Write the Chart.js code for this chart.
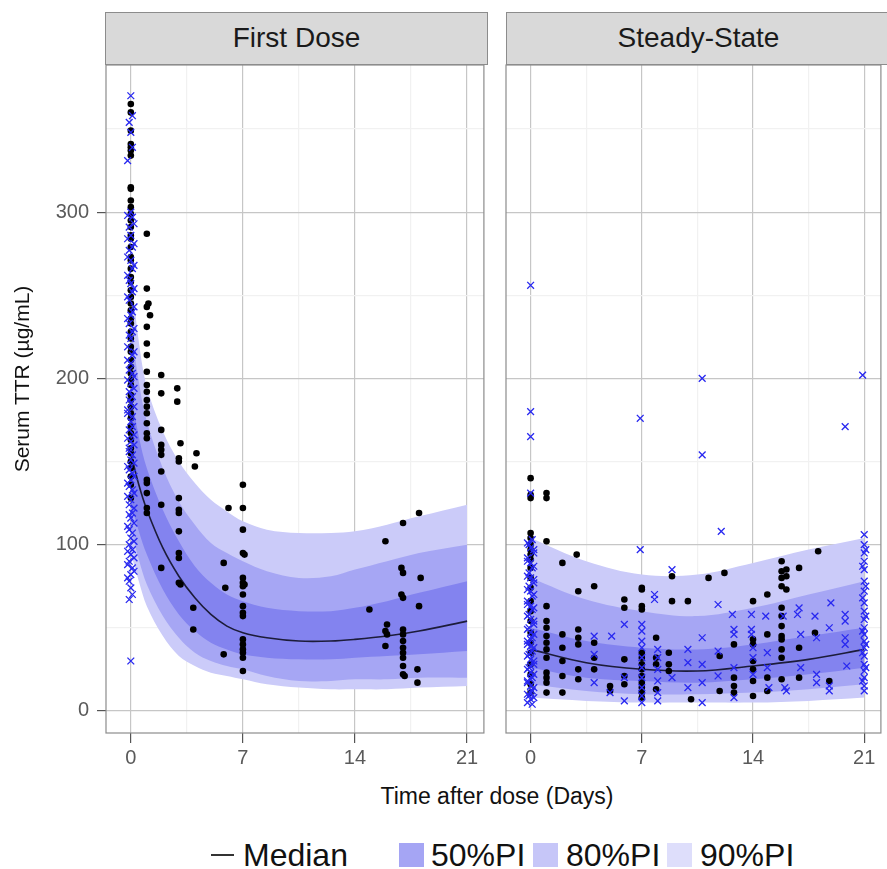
<!DOCTYPE html>
<html>
<head>
    <title>Serum TTR - First Dose / Steady-State</title>
    <script src="https://cdn.jsdelivr.net/npm/chart.js"></script>
    <style>
        body { margin: 0; background: #fff; font-family: "Liberation Sans", Arial, sans-serif; }
        #page { position: relative; width: 887px; height: 869px; overflow: hidden; }
        canvas { position: absolute; top: 0; }
        .strip { position: absolute; top: 12px; height: 53px; background: #d9d9d9; border: 1px solid #8c8c8c;
                 box-sizing: border-box; font-size: 28px; color: #1a1a1a; text-align: center; line-height: 50px; }
        .ytitle { position: absolute; left: -128px; top: 366px; width: 300px; height: 26px; line-height: 26px;
                  font-size: 21px; text-align: center; transform: rotate(-90deg); color: #111; }
        .xtitle { position: absolute; left: 297px; top: 783px; width: 400px; font-size: 23px; text-align: center; color: #111; }
        .leg { position: absolute; font-size: 32px; color: #111; top: 836px; line-height: 38px; }
        .key { position: absolute; top: 843px; width: 25px; height: 24px; }
    </style>
</head>
<body>
<div id="page">
    <canvas id="firstDose" width="490" height="780" style="left:0"></canvas>
    <canvas id="steadyState" width="397" height="780" style="left:490px"></canvas>

    <div class="strip" style="left:105px; width:383px">First Dose</div>
    <div class="strip" style="left:506px; width:385px">Steady-State</div>

    <div class="ytitle">Serum TTR (µg/mL)</div>
    <div class="xtitle">Time after dose (Days)</div>

    <div style="position:absolute; left:211px; top:854px; width:23px; height:2px; background:#333"></div>
    <div class="leg" style="left:243px">Median</div>
    <div class="key" style="left:399px; background:#a5a5f4"></div>
    <div class="leg" style="left:431px">50%PI</div>
    <div class="key" style="left:533px; background:#c6c6f8"></div>
    <div class="leg" style="left:566px">80%PI</div>
    <div class="key" style="left:667px; background:#dedefb"></div>
    <div class="leg" style="left:700px">90%PI</div>
</div>

<script>
    // ---- axes ----
    var dayTicks = [0, 3.5, 7, 10.5, 14, 17.5, 21];
    var ttrTicks = [0, 50, 100, 150, 200, 250, 300, 350];

    // ---- First Dose: prediction intervals ----
    var fdBandDay = [0, 0.5, 1, 2, 3, 4, 5, 6, 7, 8.5, 10.5, 12.5, 14, 16, 18, 21];
    var fdMedian  = [155, 136, 121, 98, 81, 68, 58, 51, 47, 44, 42, 42, 43, 45, 48, 54];
    var fdHi90    = [265, 222, 195, 168, 150, 137, 127, 120, 114, 109, 107, 107, 108, 112, 117, 124];
    var fdLo90    = [95, 78, 63, 45, 33, 27, 23, 21, 19, 16, 14, 13, 13, 13, 14, 15];
    var fdHi80    = [232, 198, 174, 146, 126, 112, 101, 95, 90, 84, 80, 81, 85, 90, 95, 100];
    var fdLo80    = [110, 91, 76, 57, 44, 35, 30, 27, 25, 21, 18, 18, 19, 19, 20, 20];
    var fdHi50    = [192, 165, 146, 121, 102, 87, 77, 70, 66, 62, 60, 60, 62, 66, 71, 78];
    var fdLo50    = [125, 108, 94, 73, 58, 48, 41, 37, 34, 32, 31, 31, 32, 33, 34, 36];

    // ---- First Dose: observations [day, value] ----
    var fdDots = [
        [0,365],[0,360],[0,349],[0,341],[0,339],[0,337],[0,334],[0,315],[0,314],[0,307],[0,303],[0,299],[0,295],
        [0,291],[0,286],[0,284],[0,279],[0,273],[0,271],[0,266],[0,261],[0,258],[0,253],[0,249],[0,245],[0,241],
        [0,236],[0,233],[0,228],[0,224],[0,219],[0,216],[0,211],[0,207],[0,203],[0,199],[0,196],[0,190],[0,187],
        [0,183],[0,179],[0,176],[0,171],[0,167],[0,163],[0,158],[0,155],[0,150],[0,146],[0,141],[0,136],[0,128],
        [1,287],[1,254],[1.1,245],[1,243],[1.2,238],[1,231],[1,221],[1,214],[1,204],[1,196],[1,192],[1,187],
        [1,183],[1,179],[1,173],[1,167],[1,164],[1,139],[1,137],[1,131],[1,122],[1,119],
        [1.9,202],[1.9,191],[1.9,169],[1.9,160],[1.9,157],[1.9,154],[1.9,144],[1.9,124],[1.9,86],
        [2.9,194],[2.9,186],[3.1,161],[3,152],[3,150],[3,128],[3,121],[3,119],[3,108],[3,95],[3,92],[3,77],[3.1,76],
        [4.1,155],[4,147],[3.9,62],[3.9,49],
        [6.1,122],[5.8,89],[5.9,74],[5.8,34],
        [7,136],[7,122],[7,109],[7,95],[7.1,94],[7,80],[7,77],[7.1,76],[7,75],[7,70],[7,63],[7,59],[7,57],
        [7,43],[7,40],[7,37],[7,35],[7,32],[7,24],
        [14.9,61],[15.9,102],[16,52],[15.9,48],[16,46],[15.9,39],[17,113],[16.9,86],[17,83],[16.9,70],[17,68],
        [17,49],[17,46],[17,42],[17,38],[17,35],[17,32],[17,27],[17,22],[17.1,21],[18,119],[18.1,80],[18,63],
        [17.9,25],[17.9,17]
    ];
    var fdCrosses = [
        [0,370],[0.1,358],[-0.1,354],[0,348],[0.1,339],[-0.2,331],[0,300],[0.1,297],[-0.1,291],[0,286],
        [0.2,281],[-0.1,277],[0,271],[0.1,266],[-0.2,262],[0,257],[0.1,252],[-0.1,247],[0.2,243],[0,238],
        [-0.1,233],[0.1,228],[0,224],[-0.2,219],[0.1,214],[0,209],[-0.1,205],[0.2,201],[0,197],[-0.1,192],
        [0.1,189],[0,185],[-0.2,181],[0.1,177],[0,174],[-0.1,169],[0.2,166],[0,162],[-0.1,158],[0.1,154],
        [0,151],[-0.2,147],[0.1,143],[0,139],[-0.1,135],[0.2,131],[0,127],[-0.1,124],[0.1,119],[0,116],
        [-0.2,111],[0.1,107],[0,104],[-0.1,100],[0.1,97],[0,94],[-0.1,90],[0.1,86],[0,82],[-0.1,78],
        [0,74],[0.1,70],[-0.1,67],[0,30],
        [-0.2,298],[0.2,293],[-0.2,284],[0.1,279],[-0.2,273],[0.2,268],[-0.1,259],[0.2,254],[-0.2,249],
        [0.1,240],[-0.2,236],[0.2,230],[-0.1,226],[0.2,216],[-0.2,211],[0.1,203],[-0.2,199],[0.2,194],
        [-0.1,187],[0.2,183],[-0.2,179],[0.1,171],[-0.2,164],[0.2,160],[-0.1,156],[0.2,149],[-0.1,145],
        [0.2,141],[-0.2,137],[0.1,133],[-0.2,129],[0.2,122],[-0.1,118],[0.2,113],[-0.1,109],[0.2,102],
        [-0.2,96],[0.2,92],[-0.2,88],[0.2,84],[-0.2,80]
    ];

    // ---- Steady-State: prediction intervals ----
    var ssBandDay = [0, 3.5, 7, 10.5, 14, 17.5, 21];
    var ssMedian  = [37, 29, 25, 24, 27, 31, 37];
    var ssHi90    = [104, 90, 82, 82, 89, 97, 104];
    var ssLo90    = [8, 6, 5, 5, 5, 6, 8];
    var ssHi80    = [80, 67, 60, 57, 62, 70, 78];
    var ssLo80    = [16, 12, 10, 10, 11, 13, 16];
    var ssHi50    = [50, 42, 38, 37, 40, 45, 50];
    var ssLo50    = [26, 20, 18, 17, 19, 22, 26];

    // ---- Steady-State: observations [day, value] ----
    var ssDots = [
        [0,140],[0,130],[0,128],[0,107],[0,104],[0,100],[0,97],[0,94],[0,91],[0,86],[0,80],[0,74],[0,66],
        [0,60],[0,54],[0,47],[0,41],[0,35],[0,28],[0,22],[0,16],[0,11],
        [1,131],[1,128],[1,102],[1,63],[1,54],[1,50],[1,45],[1,41],[1,37],[1,32],[1,23],[1,20],[1,17],[1,11],
        [2,89],[2,46],[2,38],[2,30],[2,21],[2,11],
        [2.9,94],[3,72],[3,49],[3,44],[3,40],[3,25],[3,19],
        [4,75],[4,41],[4,32],[4,25],[5,15],[5,12],
        [5.9,67],[5.9,62],[5.9,31],[5.9,21],[5.9,16],
        [7,74],[7,73],[7,63],[7,61],[7,35],[7,32],[7,28],[7,25],[7,21],[7,17],[7,14],[7,11],[7,8],
        [7.9,44],[7.9,32],[7.9,28],[7.9,13],
        [8.9,81],[8.9,66],[8.7,35],[8.7,28],[8.7,24],[9.9,66],[10.1,7],
        [11.2,80],[12.2,83],[11.9,33],[11.9,12],
        [12.8,40],[12.8,20],[12.8,15],[12.8,11],
        [14,66],[14,43],[14,40],[14,30],[14,25],[14,18],[14,9],
        [14.9,70],[14.9,46],[14.9,20],[14.9,12],
        [15.8,90],[15.8,84],[15.8,80],[15.8,75],[15.8,62],[15.8,57],[15.8,51],[15.8,45],[15.8,43],[15.8,37],
        [15.8,32],[15.8,19],[16.1,85],[16.1,81],[16.1,73],
        [16.9,86],[16.9,38],[16.9,20],[17.9,47],[18.1,96],[18.8,18]
    ];
    var ssCrosses = [
        [0,256],[0,180],[0,165],[0,131],[0.1,103],[-0.1,100],[0,98],[0.2,95],[-0.2,92],[0,89],[0.1,86],
        [-0.1,83],[0,80],[0.2,77],[-0.1,75],[0,72],[0.1,69],[-0.2,66],[0,63],[0.1,61],[-0.1,58],[0,55],
        [0.2,52],[-0.1,50],[0,47],[0.1,44],[-0.2,42],[0,39],[0.1,36],[-0.1,34],[0,31],[0.2,28],[-0.1,26],
        [0,23],[0.1,20],[-0.2,18],[0,15],[0.1,12],[-0.1,9],[0,7],[0.1,4],
        [-0.2,101],[0.2,97],[-0.2,90],[0.2,87],[-0.2,81],[0.2,79],[-0.2,73],[0.2,70],[-0.2,64],[0.2,62],
        [-0.2,57],[0.2,54],[-0.2,49],[0.2,46],[-0.2,40],[0.2,38],[-0.2,33],[0.2,30],[-0.2,25],[0.2,22],
        [-0.2,17],[0.2,14],[-0.2,10],[0.2,8],[-0.2,5],[0,43],[0,35],[0,27],[0,19],[0,11],
        [10.8,200],[20.9,202],[6.9,176],[19.8,171],[10.8,154],[12,108],[6.9,97],[8.9,85],[7.8,70],[7.8,67],
        [11.8,64],[18.9,65],[12.7,58],[13.9,58],[13.9,49],[13.9,46],[14.8,57],[15.9,57],[16.9,62],[16.8,58],
        [17.9,57],[18.8,50],[19.8,58],[19.8,54],[5.9,52],[5.1,45],[4,45],
        [7,52],[7,48],[7,42],[7,38],[7,32],[7,26],[7,20],[7,14],[7,9],[7,5],
        [4,34],[4,17],[5,11],[5.9,20],[5.9,6],
        [8,37],[8,32],[8,25],[8,18],[8,11],[8,6],[9.9,37],[9.9,29],[9.9,14],[8.9,20],
        [10.8,44],[10.8,28],[10.8,17],[10.8,5],[11.8,36],[11.8,21],
        [12.8,49],[12.8,46],[12.8,26],[12.8,8],[14,38],[14,32],[14,22],[14.9,35],[14.9,26],[15,14],
        [16,14],[16.1,12],[17,46],[17,26],[18,44],[18,22],[18,17],[18.8,12],[18.8,15],
        [19.8,44],[19.8,40],[19.9,27],
        [21,106],[21,100],[21,95],[21,90],[21,85],[21,78],[21,72],[21,65],[21,60],[21,55],[21,50],[21,46],
        [21,42],[21,38],[21,33],[21,28],[21,24],[21,20],[21,15],[21,12],
        [21.1,97],[20.9,87],[21.1,75],[20.9,68],[21.1,57],[20.9,48],[21.1,40],[20.9,35],[21.1,26],[20.9,18]
    ];

    var gridMajor = '#c6c6c6';
    var gridMinor = '#f1f1f1';
    var tickGray = '#555555';
    var crossBlue = 'rgb(40,40,240)';

    function xy(days, vals) { return days.map(function (d, i) { return { x: d, y: vals[i] }; }); }
    function pairs(list) { return list.map(function (p) { return { x: p[0], y: p[1] }; }); }
    function isStep(v, step) { return Math.abs(v % step) < 1e-6; }

    function band(days, vals, color, fillTo) {
        return {
            type: 'line', data: xy(days, vals), borderColor: 'rgba(0,0,0,0)', backgroundColor: color,
            pointRadius: 0, tension: 0.35, fill: fillTo
        };
    }

    // Panel frame like ggplot's theme_bw
    var panelBorder = {
        id: 'panelBorder',
        afterDraw: function (chart) {
            var a = chart.chartArea, c = chart.ctx;
            c.save();
            c.strokeStyle = '#8c8c8c';
            c.lineWidth = 1.2;
            c.strokeRect(a.left, a.top, a.right - a.left, a.bottom - a.top);
            c.restore();
        }
    };

    function makePanel(id, p, leftAxis) {
        var ctx = document.getElementById(id).getContext('2d');
        return new Chart(ctx, {
            type: 'scatter',
            data: {
                datasets: [
                    { label: 'Obs (x)', data: pairs(p.crosses), pointStyle: 'crossRot', pointRadius: 4.8,
                      borderColor: crossBlue, backgroundColor: crossBlue, borderWidth: 1.3 },
                    { label: 'Obs', data: pairs(p.dots), pointRadius: 3.3, backgroundColor: '#000', borderWidth: 0 },
                    { type: 'line', label: 'Median', data: xy(p.day, p.median), borderColor: '#1c1c3a',
                      borderWidth: 1.6, pointRadius: 0, tension: 0.35, fill: false },
                    band(p.day, p.lo50, 'rgba(0,0,0,0)', false),
                    band(p.day, p.hi50, '#8383ef', '-1'),
                    band(p.day, p.lo80, 'rgba(0,0,0,0)', false),
                    band(p.day, p.hi80, '#a6a6f4', '-1'),
                    band(p.day, p.lo90, 'rgba(0,0,0,0)', false),
                    band(p.day, p.hi90, '#cbcbf9', '-1')
                ]
            },
            options: {
                responsive: false,
                animation: false,
                events: [],
                layout: { padding: { top: 65, right: leftAxis ? 3 : 0, left: leftAxis ? 0 : 16, bottom: 0 } },
                plugins: { legend: { display: false }, tooltip: { enabled: false } },
                scales: {
                    x: {
                        type: 'linear', min: -1.55, max: 22.05,
                        afterBuildTicks: function (s) { s.ticks = dayTicks.map(function (v) { return { value: v }; }); },
                        afterFit: function (s) { s.height = 47; },
                        border: { display: false },
                        grid: {
                            color: function (c) { return isStep(c.tick.value, 7) ? gridMajor : gridMinor; },
                            tickColor: function (c) { return isStep(c.tick.value, 7) ? tickGray : 'rgba(0,0,0,0)'; },
                            lineWidth: 1.2, tickLength: 10
                        },
                        ticks: {
                            autoSkip: false, maxRotation: 0, padding: 3, color: '#5a5a5a', font: { size: 20 },
                            callback: function (v) { return isStep(v, 7) ? String(v) : ''; }
                        }
                    },
                    y: {
                        type: 'linear', min: -13.3, max: 388.5,
                        afterBuildTicks: function (s) { s.ticks = ttrTicks.map(function (v) { return { value: v }; }); },
                        afterFit: function (s) { s.width = leftAxis ? 106 : 0; },
                        border: { display: false },
                        grid: {
                            color: function (c) { return isStep(c.tick.value, 100) ? gridMajor : gridMinor; },
                            tickColor: function (c) { return isStep(c.tick.value, 100) ? tickGray : 'rgba(0,0,0,0)'; },
                            lineWidth: 1.2, tickLength: 9, drawTicks: leftAxis
                        },
                        ticks: {
                            display: leftAxis, padding: 8, color: '#5a5a5a', font: { size: 20 },
                            callback: function (v) { return isStep(v, 100) ? String(v) : ''; }
                        }
                    }
                }
            },
            plugins: [panelBorder]
        });
    }

    Chart.defaults.font.family = '"Liberation Sans", Arial, sans-serif';

    makePanel('firstDose', {
        day: fdBandDay, median: fdMedian, hi90: fdHi90, lo90: fdLo90, hi80: fdHi80, lo80: fdLo80,
        hi50: fdHi50, lo50: fdLo50, dots: fdDots, crosses: fdCrosses
    }, true);

    makePanel('steadyState', {
        day: ssBandDay, median: ssMedian, hi90: ssHi90, lo90: ssLo90, hi80: ssHi80, lo80: ssLo80,
        hi50: ssHi50, lo50: ssLo50, dots: ssDots, crosses: ssCrosses
    }, false);
</script>
</body>
</html>
